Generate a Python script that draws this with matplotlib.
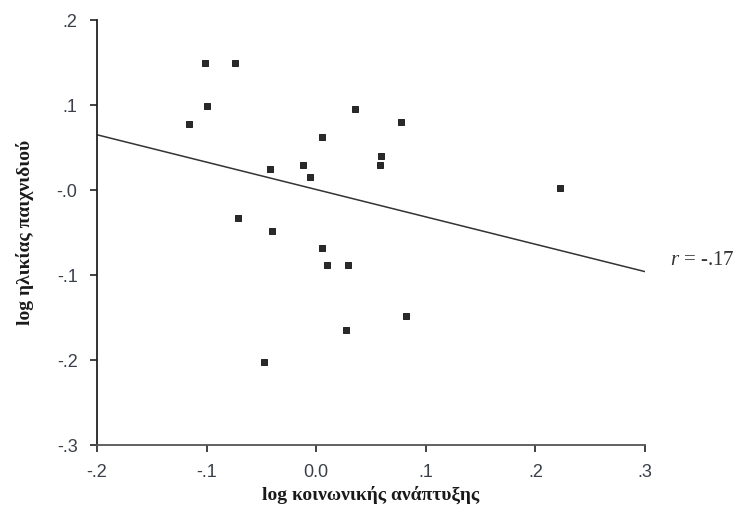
import numpy as np
import matplotlib
matplotlib.use("Agg")
import matplotlib.pyplot as plt

plt.rcParams["mathtext.fontset"] = "custom"
plt.rcParams["mathtext.it"] = "Liberation Serif:italic"
plt.rcParams["mathtext.rm"] = "Liberation Serif"

# log social development (x) vs log game age (y)
x_vals = [-0.116, -0.101, -0.074, -0.100, 0.035, 0.005, 0.077, 0.059, 0.058,
          -0.012, -0.042, -0.006, 0.222, -0.071, -0.040, 0.005, 0.010, 0.029,
          0.082, 0.027, -0.048]
y_vals = [0.078, 0.150, 0.149, 0.099, 0.095, 0.062, 0.080, 0.040, 0.030,
          0.029, 0.025, 0.015, 0.002, -0.033, -0.048, -0.068, -0.088, -0.088,
          -0.148, -0.165, -0.202]

# regression line as drawn (value at x=-.2 and x=.3)
line_x = [-0.2, 0.3]
line_y = [0.065, -0.096]

x_ticks = [-0.2, -0.1, 0.0, 0.1, 0.2, 0.3]
x_labels = ["-.2", "-.1", "0.0", ".1", ".2", ".3"]
y_ticks = [0.2, 0.1, 0.0, -0.1, -0.2, -0.3]
y_labels = [".2", ".1", "-.0", "-.1", "-.2", "-.3"]

fig = plt.figure(figsize=(7.38, 5.2), dpi=100)
ax = fig.add_axes([0.1314, 0.1442, 0.7426, 0.8173])

ax.plot(line_x, line_y, color="#333333", lw=1.1)
ax.scatter(x_vals, y_vals, marker="s", s=22, color="#2a2a2a",
           edgecolors="#111111", linewidths=0.6, zorder=3)

ax.set_xlim(-0.2, 0.3)
ax.set_ylim(-0.3, 0.2)
ax.set_xticks(x_ticks)
ax.set_xticklabels(x_labels)
ax.set_yticks(y_ticks)
ax.set_yticklabels(y_labels)

for s in ["top", "right"]:
    ax.spines[s].set_visible(False)
ax.spines["left"].set_color("#222222")
ax.spines["bottom"].set_color("#555555")
ax.spines["left"].set_linewidth(1.3)
ax.spines["bottom"].set_linewidth(1.3)
ax.tick_params(direction="out", length=5, width=1.2, color="#222222",
               labelsize=13, labelcolor="#3a3f4a", pad=9)
for lab in ax.get_xticklabels() + ax.get_yticklabels():
    lab.set_family("Liberation Sans")

ax.set_xlabel("log κοινωνικής ανάπτυξης", family="Liberation Serif",
              fontweight="bold", fontsize=14, color="#1a1a1a", labelpad=3)
ax.set_ylabel("log ηλικίας παιχνιδιού", family="Liberation Serif",
              fontweight="bold", fontsize=14, color="#1a1a1a", labelpad=16)

ax.text(0.3225, -0.083, "$r$ = -.17", family="Liberation Serif",
        fontsize=15, color="#333333", ha="left", va="center", clip_on=False)

fig.savefig("out.png", dpi=100)
